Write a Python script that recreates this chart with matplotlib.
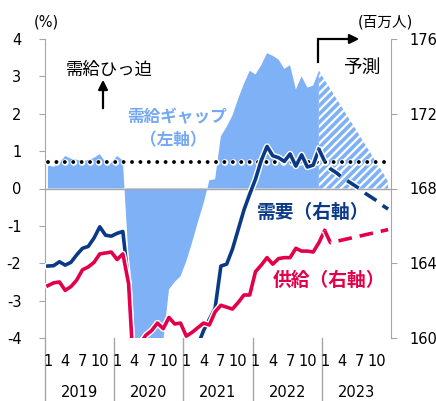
import matplotlib
matplotlib.use("Agg")
import matplotlib.pyplot as plt
import matplotlib.patheffects as pe
from matplotlib.lines import Line2D
import numpy as np

plt.rcParams['font.family'] = ['DejaVu Sans', 'Noto Sans CJK JP']
plt.rcParams['hatch.linewidth'] = 2.6

# ---- data -------------------------------------------------------------
years = ['2019', '2020', '2021', '2022', '2023']
month_labels = ['1', '4', '7', '10']
month_label_idx = [0, 3, 6, 9]

# demand-supply gap, % (left axis), Jan 2019 - Dec 2022
gap_actual = [
    0.62, 0.58, 0.68, 0.87, 0.80, 0.77, 0.73, 0.76, 0.82, 0.92, 0.70, 0.68,
    0.87, 0.75, -1.90, -4.50, -8.00, -7.60, -6.80, -5.60, -4.10, -2.70, -2.50, -2.35,
    -1.95, -1.45, -0.90, -0.40, 0.22, 0.25, 1.40, 1.65, 1.95, 2.40, 2.80, 3.15,
    3.05, 3.30, 3.62, 3.55, 3.45, 3.20, 3.30, 2.65, 3.00, 2.70, 2.75, 3.15,
]
# projection, Dec 2022 - Dec 2023
gap_forecast = [3.15, 2.90, 2.66, 2.41, 2.17, 1.92, 1.68, 1.43, 1.18, 0.94, 0.69, 0.45, 0.18]

# labour demand, millions (right axis)
demand_actual = [
    163.85, 163.87, 164.08, 163.90, 164.05, 164.45, 164.80, 164.90, 165.35, 165.95, 165.50, 165.45,
    165.60, 165.70, 162.90, 157.40, 155.50, 156.00, 156.50, 157.00, 157.50, 158.00, 158.30, 158.60,
    158.80, 159.10, 159.60, 160.40, 161.00, 161.60, 163.85, 163.95, 164.75, 165.80, 166.85, 167.70,
    168.50, 169.50, 170.25, 169.75, 169.65, 169.45, 169.85, 169.20, 169.80, 169.15, 169.25, 170.10,
]
demand_forecast = [170.10, 169.45, 169.05, 168.85, 168.60, 168.40, 168.20, 168.00,
                   167.75, 167.55, 167.35, 167.10, 166.90]

# labour supply, millions (right axis)
supply_actual = [
    162.80, 162.95, 163.00, 162.55, 162.75, 163.10, 163.65, 163.80, 164.05, 164.50, 164.55, 164.60,
    164.20, 164.50, 162.90, 157.50, 159.70, 160.15, 160.40, 160.80, 160.50, 161.10, 160.75, 160.80,
    160.10, 160.30, 160.55, 160.80, 160.70, 161.40, 161.75, 161.65, 161.55, 161.90, 162.30, 162.30,
    163.55, 163.90, 164.30, 163.95, 164.25, 164.30, 164.30, 164.80, 164.65, 164.65, 164.60, 165.10,
    165.75,
]
supply_forecast = [165.75, 165.10, 165.17, 165.24, 165.31, 165.38, 165.45, 165.52,
                   165.59, 165.66, 165.73, 165.80]

threshold = 0.7

# ---- styling ----------------------------------------------------------
AREA = '#7EB1F6'
GAP_TEXT = '#74A8F2'
NAVY = '#0A3A86'
RED = '#E3004B'
GREY = '#A6A6A6'
FS = 10.5

W, H = 436, 401
fig = plt.figure(figsize=(W / 100, H / 100), dpi=100)
ax = fig.add_axes([45 / W, 1 - 338 / H, 346 / W, 299 / H])
ax2 = ax.twinx()


def fx(px):
    return px / W


def fy(py):
    return 1 - py / H


x_act = np.arange(len(gap_actual)) + 0.5
x_gfc = np.arange(len(gap_forecast)) + len(gap_actual) - 0.5

# gap area (actual) and hatched projection
ax.fill_between(x_act, gap_actual, 0, color=AREA, lw=0, zorder=1)
ax.fill_between(x_gfc, gap_forecast, 0, facecolor='white', edgecolor=AREA,
                hatch='////', lw=0, zorder=1)

ax.axhline(0, color=GREY, lw=1.0, zorder=3)

# threshold dotted line
ax.plot([0.5, 59.5], [threshold, threshold], color='black', lw=2.8,
        ls=(0, (0.01, 2.15)), dash_capstyle='round', zorder=4,
        path_effects=[pe.Stroke(linewidth=4.8, foreground='white'), pe.Normal()])

ax.set_xlim(0, 60)
ax.set_ylim(-4, 4)
ax2.set_ylim(160, 176)

halo = [pe.Stroke(linewidth=4.6, foreground='white'), pe.Normal()]
x_dem = np.arange(len(demand_actual)) + 0.5
x_dfc = np.arange(len(demand_forecast)) + len(demand_actual) - 0.5
x_sup = np.arange(len(supply_actual)) + 0.5
x_sfc = np.arange(len(supply_forecast)) + len(supply_actual) - 0.5

ax2.plot(x_dem, demand_actual, color=NAVY, lw=2.6, path_effects=halo,
         solid_joinstyle='round')
ax2.plot(x_dfc, demand_forecast, color=NAVY, lw=2.6, ls=(0, (3.8, 2.2)),
         path_effects=halo)
ax2.plot(x_sup, supply_actual, color=RED, lw=2.6, path_effects=halo,
         solid_joinstyle='round')
ax2.plot(x_sfc, supply_forecast, color=RED, lw=2.6, ls=(0, (3.8, 2.2)),
         path_effects=halo)

# axes frame
for s in ['top', 'bottom', 'right']:
    ax.spines[s].set_visible(False)
for s in ['top', 'bottom', 'left']:
    ax2.spines[s].set_visible(False)
ax.spines['left'].set_color(GREY)
ax2.spines['right'].set_color(GREY)

ax.set_yticks(range(-4, 5))
ax.set_yticklabels([str(v) for v in range(-4, 5)])
ax.tick_params(axis='y', direction='out', length=4, color=GREY, labelsize=FS, pad=13)
ax2.set_yticks([160, 164, 168, 172, 176])
ax2.tick_params(axis='y', direction='out', length=4, color=GREY, labelsize=FS, pad=9)
ax.set_xticks([])
ax2.set_xticks([])

# category axis: month numbers, years and year separators
trans = ax.get_xaxis_transform()
for k, yr in enumerate(years):
    for lab, mi in zip(month_labels, month_label_idx):
        ax.text(12 * k + mi + 0.5, -0.080, lab, transform=trans, ha='center',
                va='center', fontsize=FS)
    ax.text(12 * k + 6, -0.181, yr, transform=trans, ha='center', va='center',
            fontsize=FS)
for b in range(0, 60, 12):
    ax.plot([b, b], [0, -0.215], transform=trans, color=GREY, lw=1.0,
            clip_on=False)

# axis units
fig.text(fx(46), fy(22), '(%)', ha='center', va='center', fontsize=FS)
fig.text(fx(385), fy(22), '(百万人)', ha='center', va='center', fontsize=FS)

# annotations
fig.text(fx(109), fy(70), '需給ひっ迫', ha='center', va='center', fontsize=12.5,
         family='Noto Sans CJK JP')
ax.annotate('', xy=(fx(103), fy(77)), xytext=(fx(103), fy(111)),
            xycoords='figure fraction', textcoords='figure fraction',
            arrowprops=dict(arrowstyle='-|>', color='black', lw=1.6,
                            mutation_scale=14))
fig.text(fx(177), fy(117), '需給ギャップ', ha='center', va='center', fontsize=12,
         color=GAP_TEXT, weight='bold', family='Noto Sans CJK JP')
fig.text(fx(173), fy(140), '（左軸）', ha='center', va='center', fontsize=12,
         color=GAP_TEXT, weight='bold', family='Noto Sans CJK JP')
fig.text(fx(257), fy(212), '需要（右軸）', ha='left', va='center', fontsize=13.5,
         color=NAVY, weight='bold', family='Noto Sans CJK JP')
fig.text(fx(273), fy(280), '供給（右軸）', ha='left', va='center', fontsize=13.5,
         color=RED, weight='bold', family='Noto Sans CJK JP')
fig.text(fx(362), fy(67), '予測', ha='center', va='center', fontsize=13.5,
         family='Noto Sans CJK JP')

# projection marker: bent arrow
fig.add_artist(Line2D([fx(318), fx(318), fx(350)], [fy(62), fy(39), fy(39)],
                      color='black', lw=1.6, solid_joinstyle='miter'))
ax.annotate('', xy=(fx(362), fy(39)), xytext=(fx(345), fy(39)),
            xycoords='figure fraction', textcoords='figure fraction',
            arrowprops=dict(arrowstyle='-|>', color='black', lw=1.6,
                            mutation_scale=14))

fig.savefig('out.png', dpi=100)
